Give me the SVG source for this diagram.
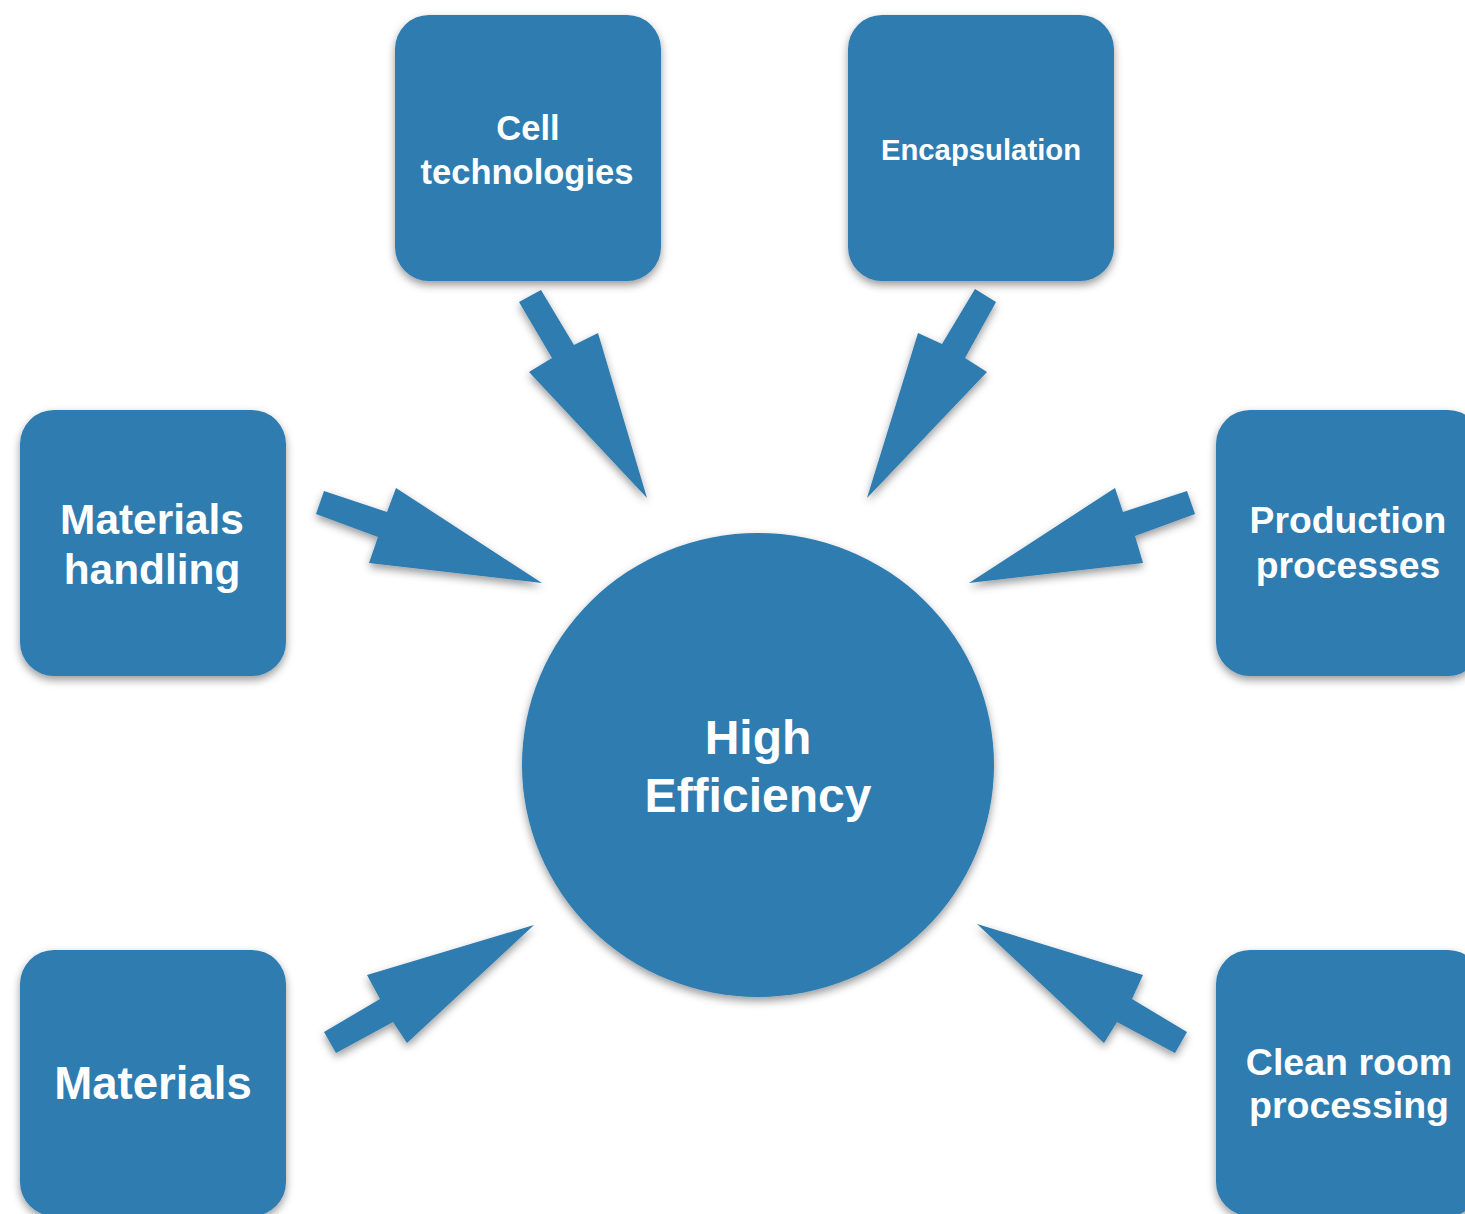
<svg xmlns="http://www.w3.org/2000/svg" width="1465" height="1214" viewBox="0 0 1465 1214">
  <defs>
    <filter id="shadow" x="-20%" y="-20%" width="140%" height="150%">
      <feDropShadow dx="0" dy="4" stdDeviation="4" flood-color="#000" flood-opacity="0.4"/>
    </filter>
    <style>
      .box { fill: #2d7bb0; filter: url(#shadow); }
      .arrow { fill: #2d7bb0; filter: url(#shadow); }
      .lbl { fill: #ffffff; font-family: "Liberation Sans", Arial, sans-serif; font-weight: bold; text-anchor: middle; }
    </style>
  </defs>
  <rect width="1465" height="1214" fill="#ffffff"/>

  <!-- connectors: block arrows pointing at the hub -->
  <g id="connectors">
    <polygon class="arrow" points="519,302 541,290 574,345 598,333 647,498 529,372 552,358"/>
    <polygon class="arrow" points="975,289 996,302 965,358 987,372 867,498 918,333 942,344"/>
    <polygon class="arrow" points="324,491 387,512 396,488 542,583 369,563 378,537 316,514"/>
    <polygon class="arrow" points="1187,491 1195,514 1135,536 1143,563 969,583 1115,488 1123,512"/>
    <polygon class="arrow" points="324,1032 380,999 367,975 534,925 407,1043 393,1022 336,1053"/>
    <polygon class="arrow" points="977,924 1143,975 1132,999 1187,1032 1175,1053 1117,1022 1104,1043"/>
  </g>

  <!-- hub -->
  <g id="high-efficiency">
    <ellipse class="box" cx="758" cy="765" rx="236" ry="232"/>
    <text class="lbl" x="758" y="754" font-size="48">High</text>
    <text class="lbl" x="758" y="812" font-size="48">Efficiency</text>
  </g>

  <g id="cell-technologies">
    <rect class="box" x="395" y="15" width="266" height="266" rx="34"/>
    <text class="lbl" x="528" y="140" font-size="34.5">Cell</text>
    <text class="lbl" x="527" y="184" font-size="34.5">technologies</text>
  </g>

  <g id="encapsulation">
    <rect class="box" x="848" y="15" width="266" height="266" rx="34"/>
    <text class="lbl" x="981" y="160" font-size="29.3">Encapsulation</text>
  </g>

  <g id="materials-handling">
    <rect class="box" x="20" y="410" width="266" height="266" rx="34"/>
    <text class="lbl" x="152" y="534" font-size="42.4">Materials</text>
    <text class="lbl" x="152" y="584" font-size="42.4">handling</text>
  </g>

  <g id="production-processes">
    <rect class="box" x="1216" y="410" width="266" height="266" rx="34"/>
    <text class="lbl" x="1348" y="533" font-size="37.3">Production</text>
    <text class="lbl" x="1348" y="578" font-size="37.3">processes</text>
  </g>

  <g id="materials">
    <rect class="box" x="20" y="950" width="266" height="266" rx="34"/>
    <text class="lbl" x="153" y="1099" font-size="45.6">Materials</text>
  </g>

  <g id="clean-room-processing">
    <rect class="box" x="1216" y="950" width="266" height="266" rx="34"/>
    <text class="lbl" x="1349" y="1075" font-size="37.5">Clean room</text>
    <text class="lbl" x="1349" y="1118" font-size="37.5">processing</text>
  </g>
</svg>
